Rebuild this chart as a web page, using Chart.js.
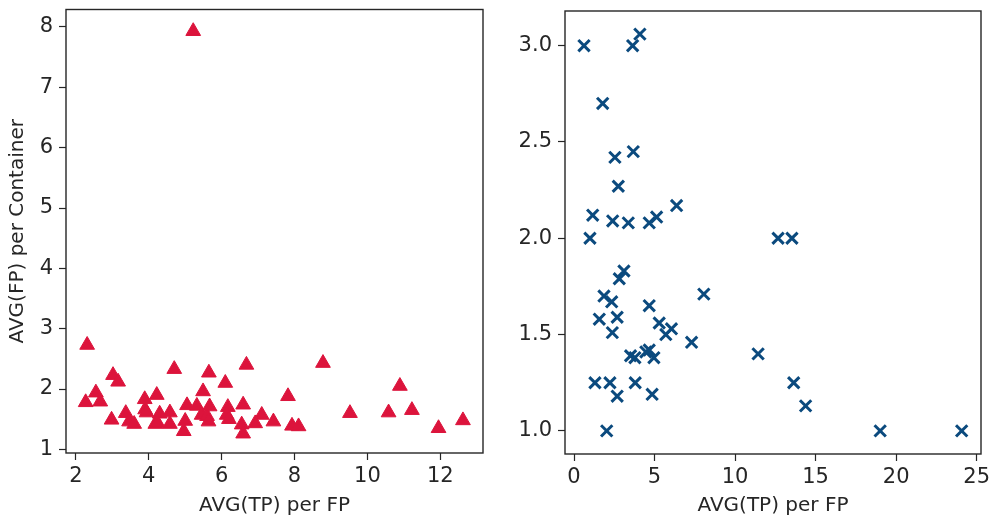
<!DOCTYPE html>
<html>
<head>
<meta charset="utf-8">
<script src="https://cdn.jsdelivr.net/npm/chart.js@4.4.1/dist/chart.umd.min.js"></script>
<style>
  html, body { margin: 0; padding: 0; background: #fff; }
  #wrap { position: relative; width: 992px; height: 521px; }
  .pane { position: absolute; top: 0; height: 521px; }
  #left { left: 0; width: 500px; }
  #right { left: 500px; width: 492px; }
</style>
</head>
<body>
<div id="wrap">
  <div class="pane" id="left"><canvas id="fpChart"></canvas></div>
  <div class="pane" id="right"><canvas id="tpChart"></canvas></div>
</div>
<script>
// left panel: AVG(TP) per FP vs AVG(FP) per Container
var fpX = [5.22, 2.31, 3.02, 3.16, 2.55, 2.27, 2.67, 2.98, 3.37, 3.46,
           3.60, 3.89, 3.90, 3.94, 4.22, 4.30, 4.18, 4.24, 4.70, 4.58,
           4.58, 5.05, 5.00, 4.96, 5.32, 5.49, 5.45, 5.65, 5.67, 5.60,
           5.64, 6.10, 6.17, 6.14, 6.20, 6.68, 6.59, 6.55, 6.59, 6.92,
           7.10, 7.42, 7.82, 7.93, 8.11, 8.78, 9.52, 10.58, 10.89, 11.22,
           11.95, 12.62];
var fpY = [7.93, 2.73, 2.23, 2.12, 1.94, 1.78, 1.79, 1.49, 1.60, 1.46,
           1.42, 1.83, 1.66, 1.61, 1.90, 1.59, 1.42, 1.44, 2.33, 1.61,
           1.42, 1.73, 1.47, 1.30, 1.72, 1.96, 1.57, 2.27, 1.71, 1.55,
           1.46, 2.10, 1.70, 1.57, 1.50, 2.40, 1.74, 1.41, 1.26, 1.43,
           1.57, 1.46, 1.88, 1.39, 1.38, 2.43, 1.60, 1.61, 2.05, 1.65,
           1.35, 1.48];

// right panel
var tpX = [0.62, 3.64, 4.09, 1.78, 3.68, 2.54, 2.75, 6.37, 1.16, 2.40,
           3.37, 4.67, 5.13, 0.99, 12.67, 13.53, 3.10, 2.81, 8.06, 1.86,
           2.34, 4.67, 1.57, 2.68, 5.29, 6.05, 5.70, 2.38, 7.30, 11.43,
           3.51, 3.78, 4.46, 4.67, 4.96, 1.30, 2.23, 3.80, 2.68, 4.85,
           13.64, 14.38, 2.03, 19.01, 24.07];
var tpY = [3.00, 3.00, 3.06, 2.70, 2.45, 2.42, 2.27, 2.17, 2.12, 2.09,
           2.08, 2.08, 2.11, 2.00, 2.00, 2.00, 1.83, 1.79, 1.71, 1.70,
           1.67, 1.65, 1.58, 1.59, 1.56, 1.53, 1.50, 1.51, 1.46, 1.40,
           1.39, 1.38, 1.41, 1.42, 1.38, 1.25, 1.25, 1.25, 1.18, 1.19,
           1.25, 1.13, 1.00, 1.00, 1.00];

var fpXTicks = [2, 4, 6, 8, 10, 12];
var fpYTicks = [1, 2, 3, 4, 5, 6, 7, 8];
var tpXTicks = [0, 5, 10, 15, 20, 25];
var tpYTicks = [1.0, 1.5, 2.0, 2.5, 3.0];

var xLabel = 'AVG(TP) per FP';
var yLabel = 'AVG(FP) per Container';

var ink = '#262626';
var tickFont = { family: 'DejaVu Sans', size: 21 };
var titleFont = { family: 'DejaVu Sans', size: 20 };

function points(xs, ys) {
    return xs.map(function (x, i) { return { x: x, y: ys[i] }; });
}

// box around the plot area, like a matplotlib frame
var frame = {
    id: 'frame',
    afterDatasetsDraw: function (chart) {
        var a = chart.chartArea, ctx = chart.ctx;
        ctx.save();
        ctx.strokeStyle = ink;
        ctx.lineWidth = 1.4;
        ctx.strokeRect(a.left, a.top, a.right - a.left, a.bottom - a.top);
        ctx.restore();
    }
};

function axis(cfg) {
    return {
        type: 'linear',
        min: cfg.min,
        max: cfg.max,
        afterBuildTicks: function (s) {
            s.ticks = cfg.ticks.map(function (v) { return { value: v }; });
        },
        afterFit: function (s) {
            if (cfg.width) s.width = cfg.width;
            if (cfg.height) s.height = cfg.height;
            // edge labels may overhang the frame; keep the plot box fixed
            s.paddingTop = s.paddingBottom = 0;
            s.paddingLeft = s.paddingRight = 0;
        },
        border: { display: false },
        grid: {
            drawOnChartArea: false,
            drawTicks: true,
            tickLength: 7,
            tickWidth: 1.2,
            tickColor: ink
        },
        ticks: {
            color: ink,
            font: tickFont,
            padding: cfg.pad,
            maxRotation: 0,
            callback: cfg.fmt || function (v) { return v; }
        },
        title: {
            display: !!cfg.title,
            text: cfg.title || '',
            color: ink,
            font: titleFont,
            padding: cfg.titlePad || 0
        }
    };
}

function makeChart(id, data, style, xs, ys, pad) {
    return new Chart(document.getElementById(id).getContext('2d'), {
        type: 'scatter',
        data: {
            datasets: [Object.assign({ data: data }, style)]
        },
        options: {
            responsive: true,
            maintainAspectRatio: false,
            animation: false,
            layout: { padding: pad },
            plugins: {
                legend: { display: false },
                tooltip: { enabled: false }
            },
            scales: { x: xs, y: ys }
        },
        plugins: [frame]
    });
}

makeChart('fpChart', points(fpX, fpY), {
    pointStyle: 'triangle',
    pointRadius: 8.5,
    backgroundColor: '#dc143c',
    borderColor: '#dc143c',
    borderWidth: 1
}, axis({
    min: 1.73, max: 13.17, ticks: fpXTicks, height: 68, pad: 4,
    title: xLabel, titlePad: { top: 0, bottom: 3 }
}), axis({
    min: 0.94, max: 8.29, ticks: fpYTicks, width: 66, pad: 6,
    title: yLabel, titlePad: { top: 6, bottom: 0 }
}), { top: 8, right: 17, left: 0, bottom: 0 });

makeChart('tpChart', points(tpX, tpY), {
    pointStyle: 'crossRot',
    pointRadius: 8,
    borderColor: '#0b4a7e',
    backgroundColor: '#0b4a7e',
    borderWidth: 3
}, axis({
    min: -0.56, max: 25.27, ticks: tpXTicks, height: 67, pad: 4,
    title: xLabel, titlePad: { top: 0, bottom: 3 }
}), axis({
    min: 0.88, max: 3.18, ticks: tpYTicks, width: 65, pad: 6,
    fmt: function (v) { return v.toFixed(1); }
}), { top: 7, right: 10, left: 0, bottom: 0 });
</script>
</body>
</html>
